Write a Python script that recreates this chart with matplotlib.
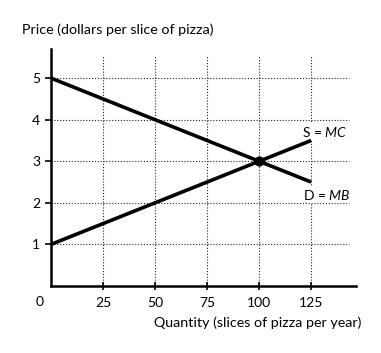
import matplotlib
matplotlib.use('Agg')
import matplotlib.pyplot as plt

plt.rcParams['font.family'] = ['Lato', 'DejaVu Sans']
plt.rcParams['mathtext.fontset'] = 'custom'
plt.rcParams['mathtext.rm'] = 'Lato'
plt.rcParams['mathtext.it'] = 'Lato:italic'

quantity = [0, 125]
demand = [5, 2.5]
supply = [1, 3.5]
eq_q, eq_p = 100, 3
x_ticks = [25, 50, 75, 100, 125]
y_ticks = [1, 2, 3, 4, 5]

fig = plt.figure(figsize=(3.81, 3.53), dpi=100)
ax = fig.add_axes([0.134, 0.19, 0.8, 0.671])

# dotted grid
for x in x_ticks:
    ax.plot([x, x], [0, 5.55], color='#222222', lw=0.8, ls=(0, (1, 1.6)), zorder=1)
for y in y_ticks:
    ax.plot([0, 143], [y, y], color='#222222', lw=0.8, ls=(0, (1, 1.6)), zorder=1)

ax.plot(quantity, demand, color='black', lw=2.6, solid_capstyle='butt', zorder=3)
ax.plot(quantity, supply, color='black', lw=2.6, solid_capstyle='butt', zorder=3)
ax.scatter([eq_q], [eq_p], s=40, color='black', zorder=4)

box = dict(facecolor='white', edgecolor='none', pad=1)
ax.text(131.5, 3.71, r'S = $MC$', ha='center', va='center', fontsize=10, bbox=box, zorder=2)
ax.text(132.5, 2.19, r'D = $MB$', ha='center', va='center', fontsize=10, bbox=box, zorder=2)

ax.set_xlim(0, 146.5)
ax.set_ylim(0, 5.7)
ax.set_xticks(x_ticks)
ax.set_yticks(y_ticks)
ax.tick_params(axis='x', direction='inout', length=6, width=1.2, labelsize=10, pad=5)
ax.tick_params(axis='y', direction='out', length=4, width=1.2, labelsize=10, pad=4)
for s in ['top', 'right']:
    ax.spines[s].set_visible(False)
for s in ['left', 'bottom']:
    ax.spines[s].set_linewidth(1.8)

fig.text(40 / 381, 1 - 302 / 353, '0', ha='center', va='center', fontsize=10)
fig.text(22 / 381, 1 - 30 / 353, 'Price (dollars per slice of pizza)', ha='left', va='center', fontsize=10.3)
fig.text(361 / 381, 1 - 323 / 353, 'Quantity (slices of pizza per year)', ha='right', va='center', fontsize=10.3)

fig.savefig('out.png', dpi=100)
